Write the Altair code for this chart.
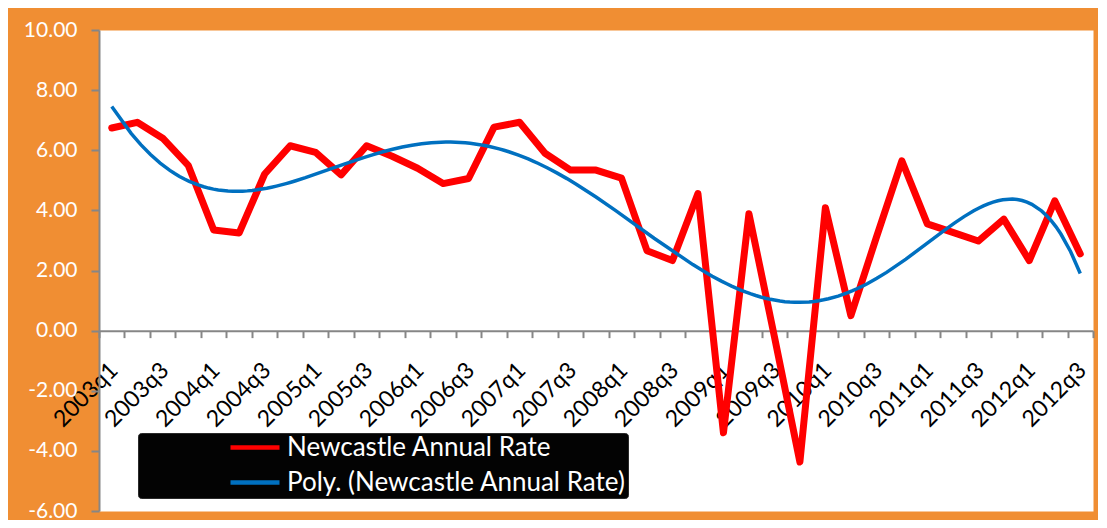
import altair as alt
import pandas as pd

# ---- data ----
quarters = [
    "2003q1", "2003q2", "2003q3", "2003q4",
    "2004q1", "2004q2", "2004q3", "2004q4",
    "2005q1", "2005q2", "2005q3", "2005q4",
    "2006q1", "2006q2", "2006q3", "2006q4",
    "2007q1", "2007q2", "2007q3", "2007q4",
    "2008q1", "2008q2", "2008q3", "2008q4",
    "2009q1", "2009q2", "2009q3", "2009q4",
    "2010q1", "2010q2", "2010q3", "2010q4",
    "2011q1", "2011q2", "2011q3", "2011q4",
    "2012q1", "2012q2", "2012q3",
]
annual_rate = [
    6.74, 6.93, 6.40, 5.50,
    3.35, 3.25, 5.21, 6.15,
    5.93, 5.18, 6.15, 5.80,
    5.40, 4.89, 5.06, 6.77,
    6.93, 5.90, 5.34, 5.34,
    5.07, 2.66, 2.33, 4.56,
    -3.40, 3.89, -0.20, -4.37,
    4.09, 0.50, 3.10, 5.65,
    3.55, 3.27, 2.98, 3.71,
    2.33, 4.32, 2.55,
]
y_ticks = [-6, -4, -2, 0, 2, 4, 6, 8, 10]

SERIES = "Newcastle Annual Rate"
TREND = "Poly. (Newcastle Annual Rate)"

n = len(quarters)
df = pd.DataFrame({"x": list(range(n)), "quarter": quarters, "value": annual_rate})

names_js = "[" + ",".join("'%s'" % q for q in quarters) + "]"
label_expr = (
    f"(datum.value + 0.5) % 2 == 0 && datum.value < {n - 1} "
    f"? {names_js}[datum.value + 0.5] : ''"
)

PLOT_W, PLOT_H = 994, 481
zero_from_bottom = PLOT_H * (0 - y_ticks[0]) / (y_ticks[-1] - y_ticks[0])

x_enc = alt.X(
    "x:Q",
    scale=alt.Scale(domain=[-0.5, n - 0.5], nice=False, zero=False),
    axis=alt.Axis(
        values=[k - 0.5 for k in range(n + 1)],
        labelExpr=label_expr,
        title=None,
        grid=False,
        offset=-zero_from_bottom,
        labelAngle=-45,
        labelAlign="right",
        labelBaseline="top",
        labelOffset=7,
        labelPadding=21,
        labelFont="Lato",
        labelFontSize=23,
        labelColor="black",
        labelOverlap=False,
        labelFlush=False,
        labelBound=False,
        tickColor="#868686",
        tickSize=7,
        tickWidth=2,
        domainColor="#868686",
        domainWidth=2,
    ),
)
y_enc = alt.Y(
    "value:Q",
    scale=alt.Scale(domain=[y_ticks[0], y_ticks[-1]], nice=False, zero=False),
    axis=alt.Axis(
        values=y_ticks,
        format=".2f",
        labelExpr="replace(datum.label, '\u2212', '-')",
        title=None,
        grid=False,
        labelFont="Lato",
        labelFontSize=21,
        labelColor="white",
        labelPadding=14,
        tickColor="#868686",
        tickSize=8,
        tickWidth=2,
        domainColor="#868686",
        domainWidth=2,
    ),
)
color_enc = alt.Color(
    "series:N",
    scale=alt.Scale(domain=[SERIES, TREND], range=["#FF0000", "#0070C0"]),
    title=None,
)

red = (
    alt.Chart(df)
    .transform_calculate(series=f"'{SERIES}'")
    .mark_line(strokeWidth=7, strokeJoin="round", strokeCap="round")
    .encode(x=x_enc, y=y_enc, color=color_enc)
)

trend = (
    alt.Chart(df)
    .transform_calculate(t="datum.x / 10")
    .transform_regression("t", "value", method="poly", order=6, extent=[0, (n - 1) / 10])
    .transform_calculate(x="datum.t * 10", series=f"'{TREND}'")
    .mark_line(strokeWidth=3.5)
    .encode(x=x_enc, y=y_enc, color=color_enc)
)

chart = (
    alt.layer(red, trend)
    .properties(
        width=PLOT_W,
        height=PLOT_H,
        autosize=alt.AutoSizeParams(type="none"),
        padding={"left": 91, "top": 22, "right": 5, "bottom": 9},
        background="#F08E33",
    )
    .configure(font="Lato")
    .configure_view(fill="white", stroke="transparent")
    .configure_legend(
        orient="none",
        legendX=39,
        legendY=403,
        fillColor="#030303",
        strokeColor="#2a2a2a",
        cornerRadius=3,
        padding=2,
        symbolType="stroke",
        symbolSize=2401,
        symbolStrokeWidth=4.5,
        symbolOffset=88,
        clipHeight=25,
        rowPadding=8,
        labelFont="Lato",
        labelFontSize=26,
        labelColor="white",
        labelOffset=5,
        labelLimit=600,
    )
)

chart.save("out.html", embed_options={"renderer": "svg", "actions": False})
